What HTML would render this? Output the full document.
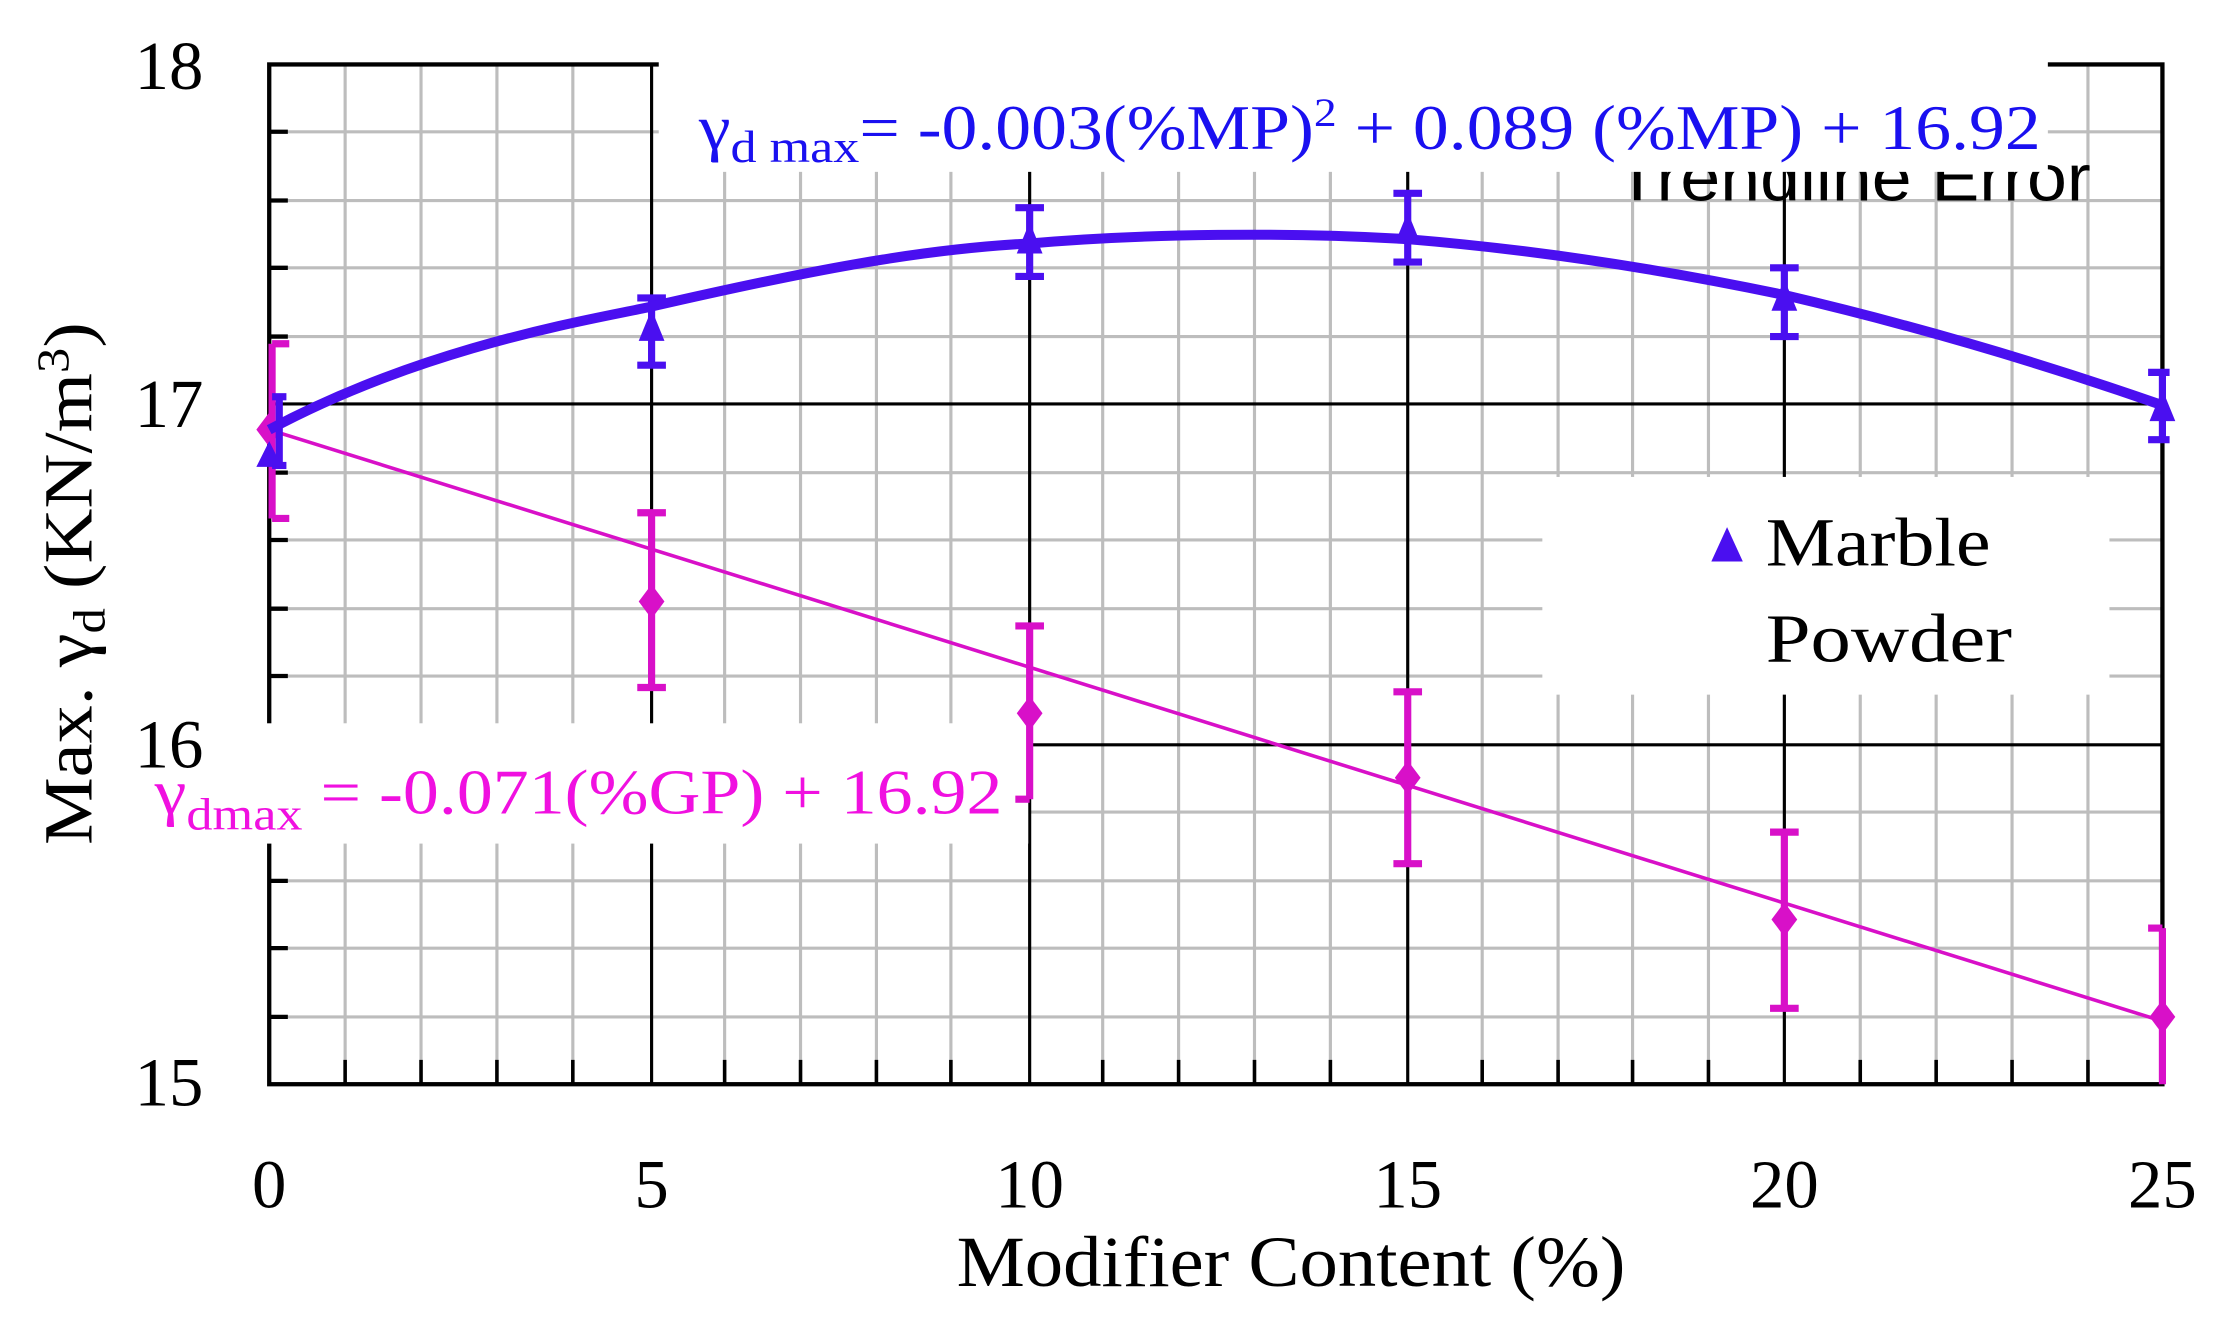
<!DOCTYPE html>
<html><head><meta charset="utf-8"><style>html,body{margin:0;padding:0;background:#fff}svg{display:block}</style></head>
<body>
<svg width="2224" height="1332" viewBox="0 0 1553 930" preserveAspectRatio="none" xmlns="http://www.w3.org/2000/svg" font-family="Liberation Serif, serif">
<rect width="1553" height="930" fill="#fff"/>
<g stroke="#bdbdbd" stroke-width="2.2">
<line x1="241" y1="45" x2="241" y2="757"/><line x1="294" y1="45" x2="294" y2="757"/><line x1="347" y1="45" x2="347" y2="757"/><line x1="400" y1="45" x2="400" y2="757"/>
<line x1="506" y1="45" x2="506" y2="757"/><line x1="559" y1="45" x2="559" y2="757"/><line x1="612" y1="45" x2="612" y2="757"/><line x1="664" y1="45" x2="664" y2="757"/>
<line x1="770" y1="45" x2="770" y2="757"/><line x1="823" y1="45" x2="823" y2="757"/><line x1="876" y1="45" x2="876" y2="757"/><line x1="929" y1="45" x2="929" y2="757"/>
<line x1="1035" y1="45" x2="1035" y2="757"/><line x1="1088" y1="45" x2="1088" y2="757"/><line x1="1140" y1="45" x2="1140" y2="757"/><line x1="1193" y1="45" x2="1193" y2="757"/>
<line x1="1299" y1="45" x2="1299" y2="757"/><line x1="1352" y1="45" x2="1352" y2="757"/><line x1="1405" y1="45" x2="1405" y2="757"/><line x1="1458" y1="45" x2="1458" y2="757"/>
<line x1="188" y1="92" x2="1510" y2="92"/><line x1="188" y1="140" x2="1510" y2="140"/><line x1="188" y1="187" x2="1510" y2="187"/><line x1="188" y1="235" x2="1510" y2="235"/>
<line x1="188" y1="330" x2="1510" y2="330"/><line x1="188" y1="377" x2="1510" y2="377"/><line x1="188" y1="425" x2="1510" y2="425"/><line x1="188" y1="472" x2="1510" y2="472"/>
<line x1="188" y1="567" x2="1510" y2="567"/><line x1="188" y1="615" x2="1510" y2="615"/><line x1="188" y1="662" x2="1510" y2="662"/><line x1="188" y1="710" x2="1510" y2="710"/>
</g>
<g stroke="#000" stroke-width="2.2">
<line x1="455" y1="45" x2="455" y2="757"/><line x1="719" y1="45" x2="719" y2="757"/><line x1="983" y1="45" x2="983" y2="757"/><line x1="1246" y1="45" x2="1246" y2="757"/>
<line x1="188" y1="282" x2="1510" y2="282"/><line x1="188" y1="520" x2="1510" y2="520"/>
</g>
<g stroke="#000" stroke-width="3">
<line x1="188" y1="92" x2="201" y2="92"/><line x1="188" y1="140" x2="201" y2="140"/><line x1="188" y1="187" x2="201" y2="187"/><line x1="188" y1="235" x2="201" y2="235"/>
<line x1="188" y1="330" x2="201" y2="330"/><line x1="188" y1="377" x2="201" y2="377"/><line x1="188" y1="425" x2="201" y2="425"/><line x1="188" y1="472" x2="201" y2="472"/>
<line x1="188" y1="567" x2="201" y2="567"/><line x1="188" y1="615" x2="201" y2="615"/><line x1="188" y1="662" x2="201" y2="662"/><line x1="188" y1="710" x2="201" y2="710"/>
</g>
<g stroke="#000" stroke-width="2.5">
<line x1="241" y1="757" x2="241" y2="740"/><line x1="294" y1="757" x2="294" y2="740"/><line x1="347" y1="757" x2="347" y2="740"/><line x1="400" y1="757" x2="400" y2="740"/>
<line x1="506" y1="757" x2="506" y2="740"/><line x1="559" y1="757" x2="559" y2="740"/><line x1="612" y1="757" x2="612" y2="740"/><line x1="664" y1="757" x2="664" y2="740"/>
<line x1="770" y1="757" x2="770" y2="740"/><line x1="823" y1="757" x2="823" y2="740"/><line x1="876" y1="757" x2="876" y2="740"/><line x1="929" y1="757" x2="929" y2="740"/>
<line x1="1035" y1="757" x2="1035" y2="740"/><line x1="1088" y1="757" x2="1088" y2="740"/><line x1="1140" y1="757" x2="1140" y2="740"/><line x1="1193" y1="757" x2="1193" y2="740"/>
<line x1="1299" y1="757" x2="1299" y2="740"/><line x1="1352" y1="757" x2="1352" y2="740"/><line x1="1405" y1="757" x2="1405" y2="740"/><line x1="1458" y1="757" x2="1458" y2="740"/>
</g>
<rect x="188" y="45" width="1322" height="712" fill="none" stroke="#000" stroke-width="3"/>
<text x="1128" y="140" font-family="Liberation Sans, sans-serif" font-size="46" fill="#000" textLength="332" lengthAdjust="spacingAndGlyphs">Trendline Error</text>
<rect x="460" y="40" width="970" height="80" fill="#fff"/>
<rect x="1077" y="333" width="396" height="152" fill="#fff"/>
<rect x="100" y="505" width="618" height="84" fill="#fff"/>
<text x="488" y="104" font-size="44" fill="#1a10f0" textLength="937" lengthAdjust="spacingAndGlyphs">γ<tspan font-size="32" dy="9">d max</tspan><tspan dy="-9">= -0.003(%MP)</tspan><tspan font-size="28" dy="-16">2</tspan><tspan dy="16"> + 0.089 (%MP) + 16.92</tspan></text>
<text x="108" y="568" font-size="44" fill="#f010e0" textLength="592" lengthAdjust="spacingAndGlyphs">γ<tspan font-size="32" dy="11">dmax</tspan><tspan dy="-11"> = -0.071(%GP) + 16.92</tspan></text>
<line x1="188" y1="300" x2="1510" y2="713" stroke="#d810c8" stroke-width="2.5"/>
<g stroke="#d810c8" stroke-width="5" fill="#d810c8">
<line x1="190" y1="240" x2="190" y2="362"/><line x1="190" y1="240" x2="202" y2="240"/><line x1="190" y1="362" x2="202" y2="362"/>
<line x1="455" y1="358" x2="455" y2="480"/><line x1="445" y1="358" x2="465" y2="358"/><line x1="445" y1="480" x2="465" y2="480"/>
<line x1="719" y1="437" x2="719" y2="558"/><line x1="709" y1="437" x2="729" y2="437"/><line x1="709" y1="558" x2="719" y2="558"/>
<line x1="983" y1="483" x2="983" y2="603"/><line x1="973" y1="483" x2="993" y2="483"/><line x1="973" y1="603" x2="993" y2="603"/>
<line x1="1246" y1="581" x2="1246" y2="704"/><line x1="1236" y1="581" x2="1256" y2="581"/><line x1="1236" y1="704" x2="1256" y2="704"/>
<line x1="1510" y1="648" x2="1510" y2="757"/><line x1="1500" y1="648" x2="1510" y2="648"/>
</g>
<g fill="#d810c8">
<path d="M188 288 L197 300 L188 312 L179 300Z"/><path d="M455 408 L464 420 L455 432 L446 420Z"/><path d="M719 486 L728 498 L719 510 L710 498Z"/>
<path d="M983 531 L992 543 L983 555 L974 543Z"/><path d="M1246 630 L1255 642 L1246 654 L1237 642Z"/><path d="M1510 698 L1519 710 L1510 722 L1501 710Z"/>
</g>
<g stroke="#4a0ff0" stroke-width="5">
<line x1="195" y1="277" x2="195" y2="325"/><line x1="190" y1="277" x2="200" y2="277"/><line x1="190" y1="325" x2="200" y2="325"/>
<line x1="455" y1="208" x2="455" y2="255"/><line x1="445" y1="208" x2="465" y2="208"/><line x1="445" y1="255" x2="465" y2="255"/>
<line x1="719" y1="145" x2="719" y2="193"/><line x1="709" y1="145" x2="729" y2="145"/><line x1="709" y1="193" x2="729" y2="193"/>
<line x1="983" y1="135" x2="983" y2="183"/><line x1="973" y1="135" x2="993" y2="135"/><line x1="973" y1="183" x2="993" y2="183"/>
<line x1="1246" y1="187" x2="1246" y2="235"/><line x1="1236" y1="187" x2="1256" y2="187"/><line x1="1236" y1="235" x2="1256" y2="235"/>
<line x1="1510" y1="260" x2="1510" y2="307"/><line x1="1500" y1="260" x2="1515" y2="260"/><line x1="1500" y1="307" x2="1515" y2="307"/>
</g>
<path d="M188 300 C 300 240, 420 222, 455 214 C 560 190, 640 174, 719 170 C 800 163, 900 162, 983 167 C 1080 175, 1170 190, 1246 206 C 1340 228, 1430 255, 1510 283" fill="none" stroke="#4a0ff0" stroke-width="7" stroke-linejoin="round"/>
<g fill="#4a0ff0">
<path d="M188 308 L197 326 L179 326Z"/><path d="M455 216 L464 238 L446 238Z"/><path d="M719 155 L728 177 L710 177Z"/>
<path d="M983 148 L992 170 L974 170Z"/><path d="M1246 195 L1255 217 L1237 217Z"/><path d="M1510 272 L1519 294 L1501 294Z"/>
<path d="M1206 368 L1217 392 L1195 392Z"/>
</g>
<g font-size="48" fill="#000">
<text x="1233" y="395" textLength="157" lengthAdjust="spacingAndGlyphs">Marble</text><text x="1233" y="462" textLength="172" lengthAdjust="spacingAndGlyphs">Powder</text>
</g>
<g font-size="48" fill="#000" text-anchor="end">
<text x="142" y="62">18</text><text x="142" y="298">17</text><text x="142" y="536">16</text><text x="142" y="772">15</text>
</g>
<g font-size="48" fill="#000" text-anchor="middle">
<text x="188" y="843">0</text><text x="455" y="843">5</text><text x="719" y="843">10</text><text x="983" y="843">15</text><text x="1246" y="843">20</text><text x="1510" y="843">25</text>
</g>
<text x="668" y="898" font-size="50" fill="#000" textLength="467" lengthAdjust="spacingAndGlyphs">Modifier Content (%)</text>
<text transform="translate(64,590) rotate(-90)" font-size="48" fill="#000" textLength="365" lengthAdjust="spacingAndGlyphs">Max. γ<tspan font-size="32" dy="9">d</tspan><tspan dy="-9"> (KN/m</tspan><tspan font-size="32" dy="-16">3</tspan><tspan dy="16">)</tspan></text>
</svg>
</body></html>
